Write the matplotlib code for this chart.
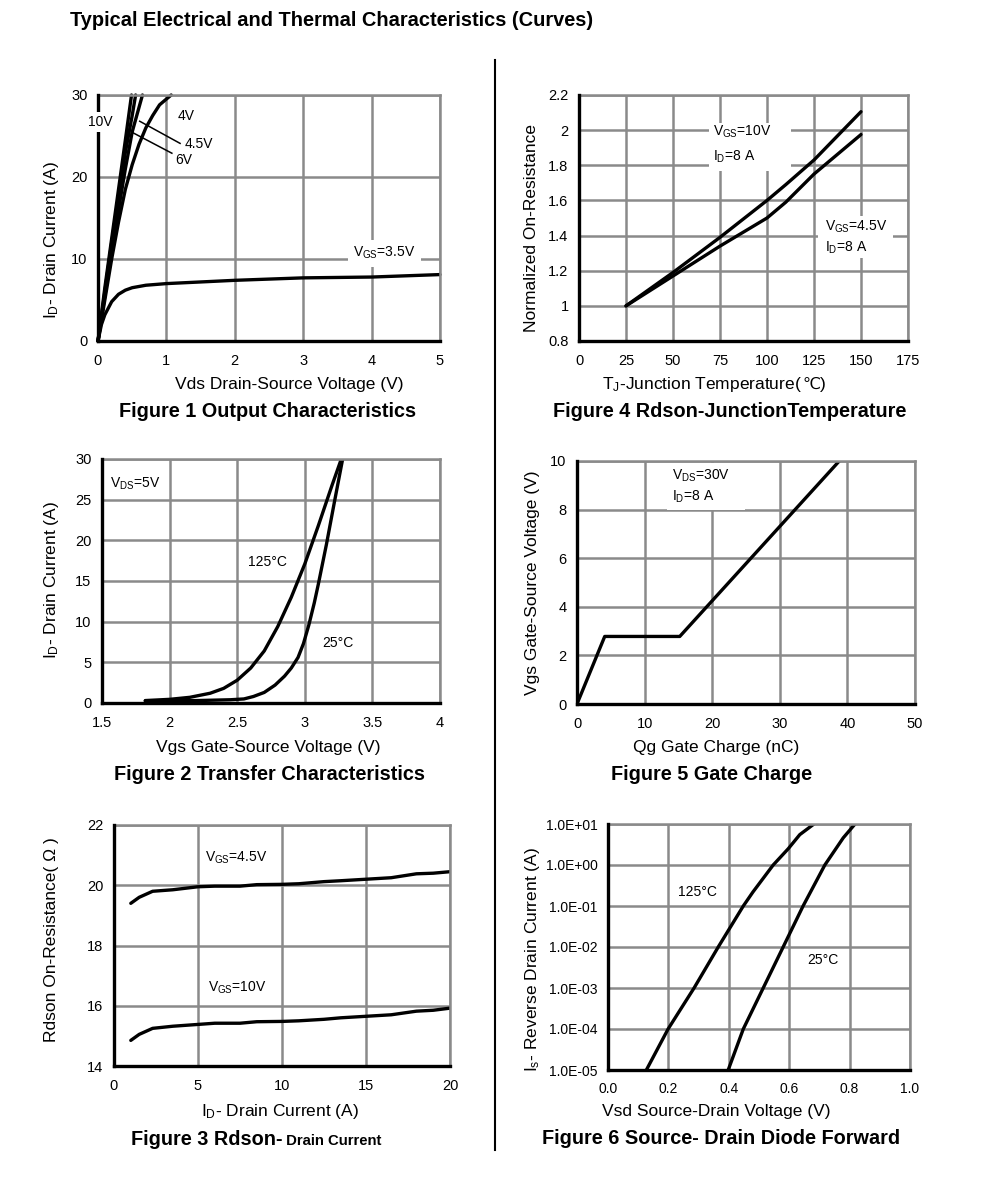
import matplotlib
matplotlib.use("Agg")
import matplotlib.pyplot as plt
import numpy as np

plt.rcParams['font.family'] = ['Liberation Sans', 'DejaVu Sans']
plt.rcParams['mathtext.fontset'] = 'custom'
plt.rcParams['mathtext.rm'] = 'Liberation Sans'
plt.rcParams['mathtext.it'] = 'Liberation Sans:italic'
plt.rcParams['mathtext.bf'] = 'Liberation Sans:bold'

W, H = 991, 1178

# ---------------- Data ----------------
# Figure 1 Output characteristics
f1_vds_10 = [0, 0.1, 0.2, 0.3, 0.4, 0.49]
f1_id_10 = [0, 6.5, 12.5, 18.5, 24.5, 30]
f1_vds_6 = [0, 0.1, 0.2, 0.3, 0.4, 0.5, 0.55]
f1_id_6 = [0, 6, 12, 17.5, 23, 27.5, 30]
f1_vds_45 = [0, 0.1, 0.2, 0.3, 0.4, 0.5, 0.6, 0.65]
f1_id_45 = [0, 5.5, 11, 16, 21, 25.5, 28.5, 30]
f1_vds_4 = [0, 0.1, 0.2, 0.3, 0.4, 0.5, 0.6, 0.7, 0.8, 0.9, 1.07]
f1_id_4 = [0, 5, 10, 14.5, 18.5, 21.5, 24, 26, 27.5, 28.8, 30]
f1_vds_35 = [0, 0.05, 0.1, 0.2, 0.3, 0.4, 0.5, 0.7, 1.0, 1.5, 2, 3, 4, 5]
f1_id_35 = [0, 2, 3.2, 4.8, 5.7, 6.2, 6.5, 6.8, 7.0, 7.2, 7.4, 7.7, 7.8, 8.1]
f1_xticks = [0, 1, 2, 3, 4, 5]
f1_yticks = [0, 10, 20, 30]

# Figure 4 Rdson vs junction temperature
f4_tj = [25, 50, 75, 100, 110, 125, 150]
f4_r_10 = [1.0, 1.19, 1.39, 1.60, 1.69, 1.83, 2.105]
f4_r_45 = [1.0, 1.17, 1.34, 1.50, 1.59, 1.75, 1.975]
f4_xticks = [0, 25, 50, 75, 100, 125, 150, 175]
f4_yticks = [0.8, 1.0, 1.2, 1.4, 1.6, 1.8, 2.0, 2.2]
f4_yticklabels = ['0.8', '1', '1.2', '1.4', '1.6', '1.8', '2', '2.2']

# Figure 2 Transfer characteristics
f2_vgs_25 = [1.82, 2.2, 2.45, 2.55, 2.62, 2.7, 2.78, 2.85, 2.9, 2.95, 2.99, 3.03, 3.07, 3.1, 3.16, 3.22, 3.28]
f2_id_25 = [0.25, 0.3, 0.4, 0.5, 0.8, 1.3, 2.2, 3.3, 4.3, 5.6, 7.3, 9.6, 12.3, 14.6, 19.5, 24.8, 30]
f2_vgs_125 = [1.82, 2.0, 2.15, 2.3, 2.4, 2.5, 2.6, 2.7, 2.8, 2.9, 3.0, 3.1, 3.2, 3.27]
f2_id_125 = [0.3, 0.45, 0.7, 1.2, 1.8, 2.8, 4.3, 6.4, 9.4, 13, 17.1, 21.8, 26.7, 30]
f2_xticks = [1.5, 2, 2.5, 3, 3.5, 4]
f2_xticklabels = ['1.5', '2', '2.5', '3', '3.5', '4']
f2_yticks = [0, 5, 10, 15, 20, 25, 30]

# Figure 5 Gate charge
f5_qg = [0, 4.1, 15.2, 38.8]
f5_vgs = [0, 2.78, 2.78, 10]
f5_xticks = [0, 10, 20, 30, 40, 50]
f5_yticks = [0, 2, 4, 6, 8, 10]

# Figure 3 Rdson vs drain current
f3_id = [1, 1.5, 2.3, 3.5, 5, 6, 7.5, 8.5, 10, 11, 12.5, 13.5, 15, 16.5, 18, 19, 20]
f3_r_45 = [19.4, 19.6, 19.8, 19.85, 19.95, 19.97, 19.97, 20.02, 20.03, 20.05, 20.12, 20.15, 20.2, 20.25, 20.38, 20.4, 20.45]
f3_r_10 = [14.85, 15.05, 15.25, 15.32, 15.38, 15.42, 15.42, 15.47, 15.48, 15.5, 15.55, 15.6, 15.65, 15.7, 15.82, 15.85, 15.92]
f3_xticks = [0, 5, 10, 15, 20]
f3_yticks = [14, 16, 18, 20, 22]

# Figure 6 Source-drain diode forward
f6_vsd_125 = [0.127, 0.199, 0.285, 0.365, 0.448, 0.48, 0.547, 0.597, 0.635, 0.682]
f6_is_125 = [1e-5, 1e-4, 1e-3, 1e-2, 1e-1, 0.22, 1.0, 2.5, 5.5, 10]
f6_vsd_25 = [0.398, 0.448, 0.514, 0.58, 0.646, 0.718, 0.779, 0.818]
f6_is_25 = [1e-5, 1e-4, 1e-3, 1e-2, 1e-1, 1.0, 4.6, 10]
f6_xticks = [0.0, 0.2, 0.4, 0.6, 0.8, 1.0]
f6_xticklabels = ['0.0', '0.2', '0.4', '0.6', '0.8', '1.0']
f6_yticks = [1e-5, 1e-4, 1e-3, 1e-2, 1e-1, 1e0, 1e1]
f6_yticklabels = ['1.0E-05', '1.0E-04', '1.0E-03', '1.0E-02', '1.0E-01', '1.0E+00', '1.0E+01']

# ---------------- Styling helpers ----------------
GRID = '#8a8a8a'
fig = plt.figure(figsize=(W / 100, H / 100), dpi=100)
renderer = fig.canvas.get_renderer()

TICK = 10.5
ANN = 10
LAB = 12.5
TTL = 14.3


def px_axes(left, top, right, bottom):
    return fig.add_axes([left / W, 1 - bottom / H, (right - left) / W, (bottom - top) / H])


def style(ax, xlim, ylim, xticks, yticks, xtl=None, ytl=None, tsize=TICK):
    ax.set_xlim(*xlim)
    ax.set_ylim(*ylim)
    ax.set_xticks(xticks)
    ax.set_yticks(yticks)
    if xtl is not None:
        ax.set_xticklabels(xtl)
    if ytl is not None:
        ax.set_yticklabels(ytl)
    ax.minorticks_off()
    ax.tick_params(axis='x', length=0, labelsize=tsize, pad=9.5)
    ax.tick_params(axis='y', length=0, labelsize=tsize, pad=7.5)
    ax.grid(True, color=GRID, lw=1.8)
    ax.set_axisbelow(True)
    for s in ['top', 'right']:
        ax.spines[s].set_color(GRID)
        ax.spines[s].set_linewidth(1.8)
    for s in ['left', 'bottom']:
        ax.spines[s].set_color('black')
        ax.spines[s].set_linewidth(2.4)
        ax.spines[s].set_zorder(5)


def ftext(x, y, s, **kw):
    return fig.text(x / W, 1 - y / H, s, **kw)


def compose(x, yb, parts, ha='center'):
    texts, widths = [], []
    for s, kw in parts:
        t = fig.text(0, 0, s, va='baseline', ha='left', **kw)
        texts.append(t)
        widths.append(t.get_window_extent(renderer).width)
    total = sum(widths)
    cx = x - total / 2 if ha == 'center' else x
    for t, w in zip(texts, widths):
        t.set_position((cx / W, 1 - yb / H))
        cx += w


def ylab(x, y, s):
    ftext(x, y, s, rotation=90, fontsize=LAB, ha='center', va='center')


def xlab(x, yb, s):
    ftext(x, yb, s, fontsize=LAB, ha='center', va='baseline')


def title(x, yb, s):
    ftext(x, yb, s, fontsize=TTL, fontweight='bold', ha='center', va='baseline')


LW = 2.4
WB = dict(facecolor='white', edgecolor='none', pad=2)

# Header and divider
ftext(70, 20, 'Typical Electrical and Thermal Characteristics (Curves)', fontsize=14.4,
      fontweight='bold', va='center', ha='left')
fig.add_artist(plt.Line2D([495 / W, 495 / W], [1 - 60 / H, 1 - 1150 / H], color='black', lw=1.5))

# ---------------- Figure 1 ----------------
ax1 = px_axes(98, 95, 440, 341)
style(ax1, (0, 5), (0, 30), f1_xticks, f1_yticks)
for xs, ys in [(f1_vds_10, f1_id_10), (f1_vds_6, f1_id_6), (f1_vds_45, f1_id_45),
               (f1_vds_4, f1_id_4), (f1_vds_35, f1_id_35)]:
    ax1.plot(xs, ys, color='black', lw=LW, solid_capstyle='round', clip_on=False)
ax1.text(-0.146, 26.7, '10V', fontsize=ANN, va='center', ha='left', bbox=WB, clip_on=False, zorder=6)
ax1.text(1.17, 27.4, '4V', fontsize=ANN, va='center', ha='left')
ax1.text(1.27, 24.0, '4.5V', fontsize=ANN, va='center', ha='left')
ax1.text(1.13, 22.1, '6V', fontsize=ANN, va='center', ha='left')
ax1.plot([1.2, 0.61], [24.1, 26.8], color='black', lw=1.1)
ax1.plot([1.08, 0.51], [22.9, 25.4], color='black', lw=1.1)
ax1.text(3.73, 10.7, 'V$_{\\mathrm{GS}}$=3.5V', fontsize=ANN, va='center', ha='left',
         bbox=dict(facecolor='white', edgecolor='none', pad=4))
xlab(289, 389, 'Vds Drain-Source Voltage (V)')
ylab(52, 240, 'I$_{\\mathrm{D}}$- Drain Current (A)')
title(268, 417, 'Figure 1 Output Characteristics')

# ---------------- Figure 4 ----------------
ax4 = px_axes(579, 95, 908, 341)
style(ax4, (0, 175), (0.8, 2.2), f4_xticks, f4_yticks, ytl=f4_yticklabels)
ax4.plot(f4_tj, f4_r_10, color='black', lw=LW, solid_capstyle='round')
ax4.plot(f4_tj, f4_r_45, color='black', lw=LW, solid_capstyle='round')
ax4.text(71.3, 1.99, 'V$_{\\mathrm{GS}}$=10V', fontsize=ANN, va='center', ha='left', zorder=4)
ax4.text(71.3, 1.85, 'I$_{\\mathrm{D}}$=8 A', fontsize=ANN, va='center', ha='left', zorder=4)
ax4.add_patch(plt.Rectangle((69, 1.77), 44, 0.27, facecolor='white', edgecolor='none', zorder=1.5))
ax4.text(130.9, 1.45, 'V$_{\\mathrm{GS}}$=4.5V', fontsize=ANN, va='center', ha='left', zorder=4)
ax4.text(130.9, 1.33, 'I$_{\\mathrm{D}}$=8 A', fontsize=ANN, va='center', ha='left', zorder=4)
ax4.add_patch(plt.Rectangle((127, 1.27), 40, 0.24, facecolor='white', edgecolor='none', zorder=1.5))
compose(714, 389, [('T$_{\\mathrm{J}}$-Junction Temperature(', dict(fontsize=LAB)),
                   ('℃', dict(fontsize=LAB - 1, family=['DejaVu Sans'])),
                   (')', dict(fontsize=LAB))])
ylab(531, 228, 'Normalized On-Resistance')
title(730, 417, 'Figure 4 Rdson-JunctionTemperature')

# ---------------- Figure 2 ----------------
ax2 = px_axes(102, 459, 440, 703)
style(ax2, (1.5, 4), (0, 30), f2_xticks, f2_yticks, xtl=f2_xticklabels)
ax2.plot(f2_vgs_25, f2_id_25, color='black', lw=LW, solid_capstyle='round', solid_joinstyle='round')
ax2.plot(f2_vgs_125, f2_id_125, color='black', lw=LW, solid_capstyle='round', solid_joinstyle='round')
ax2.text(1.56, 27.0, 'V$_{\\mathrm{DS}}$=5V', fontsize=ANN, va='center', ha='left')
ax2.text(2.58, 17.3, '125°C', fontsize=ANN, va='center', ha='left')
ax2.text(3.13, 7.4, '25°C', fontsize=ANN, va='center', ha='left')
xlab(268, 752, 'Vgs Gate-Source Voltage (V)')
ylab(52, 580, 'I$_{\\mathrm{D}}$- Drain Current (A)')
title(269, 780, 'Figure 2 Transfer Characteristics')

# ---------------- Figure 5 ----------------
ax5 = px_axes(577, 461, 915, 704)
style(ax5, (0, 50), (0, 10), f5_xticks, f5_yticks)
ax5.plot(f5_qg, f5_vgs, color='black', lw=LW, solid_capstyle='round')
ax5.add_patch(plt.Rectangle((13.3, 8.0), 11.6, 1.9, facecolor='white', edgecolor='none', zorder=1.5))
ax5.text(14.05, 9.38, 'V$_{\\mathrm{DS}}$=30V', fontsize=ANN, va='center', ha='left', zorder=4)
ax5.text(14.05, 8.52, 'I$_{\\mathrm{D}}$=8 A', fontsize=ANN, va='center', ha='left', zorder=4)
xlab(716, 752, 'Qg Gate Charge (nC)')
ylab(532, 583, 'Vgs Gate-Source Voltage (V)')
title(712, 780, 'Figure 5 Gate Charge')

# ---------------- Figure 3 ----------------
ax3 = px_axes(114, 825, 450, 1066)
style(ax3, (0, 20), (14, 22), f3_xticks, f3_yticks)
ax3.plot(f3_id, f3_r_45, color='black', lw=LW, solid_capstyle='round')
ax3.plot(f3_id, f3_r_10, color='black', lw=LW, solid_capstyle='round')
ax3.text(5.4, 20.9, 'V$_{\\mathrm{GS}}$=4.5V', fontsize=ANN, va='center', ha='left')
ax3.text(5.6, 16.6, 'V$_{\\mathrm{GS}}$=10V', fontsize=ANN, va='center', ha='left')
xlab(280, 1116, 'I$_{\\mathrm{D}}$- Drain Current (A)')
ylab(52, 940, 'Rdson On-Resistance( Ω )')
compose(131, 1145, [('Figure 3 Rdson-', dict(fontsize=TTL, fontweight='bold')),
                    (' Drain Current', dict(fontsize=10.7, fontweight='bold'))], ha='left')

# ---------------- Figure 6 ----------------
ax6 = px_axes(608, 824, 910, 1070)
ax6.set_yscale('log')
style(ax6, (0, 1), (1e-5, 1e1), f6_xticks, f6_yticks, xtl=f6_xticklabels, ytl=f6_yticklabels, tsize=10)
ax6.tick_params(axis='x', pad=8.5)
ax6.plot(f6_vsd_125, f6_is_125, color='black', lw=LW, solid_capstyle='round')
ax6.plot(f6_vsd_25, f6_is_25, color='black', lw=LW, solid_capstyle='round')
ax6.text(0.232, 0.22, '125°C', fontsize=ANN, va='center', ha='left')
ax6.text(0.659, 0.0048, '25°C', fontsize=ANN, va='center', ha='left')
xlab(716, 1116, 'Vsd Source-Drain Voltage (V)')
ylab(532, 960, 'I$_{\\mathrm{s}}$- Reverse Drain Current (A)')
title(721, 1144, 'Figure 6 Source- Drain Diode Forward')

fig.savefig('out.png', dpi=100)
